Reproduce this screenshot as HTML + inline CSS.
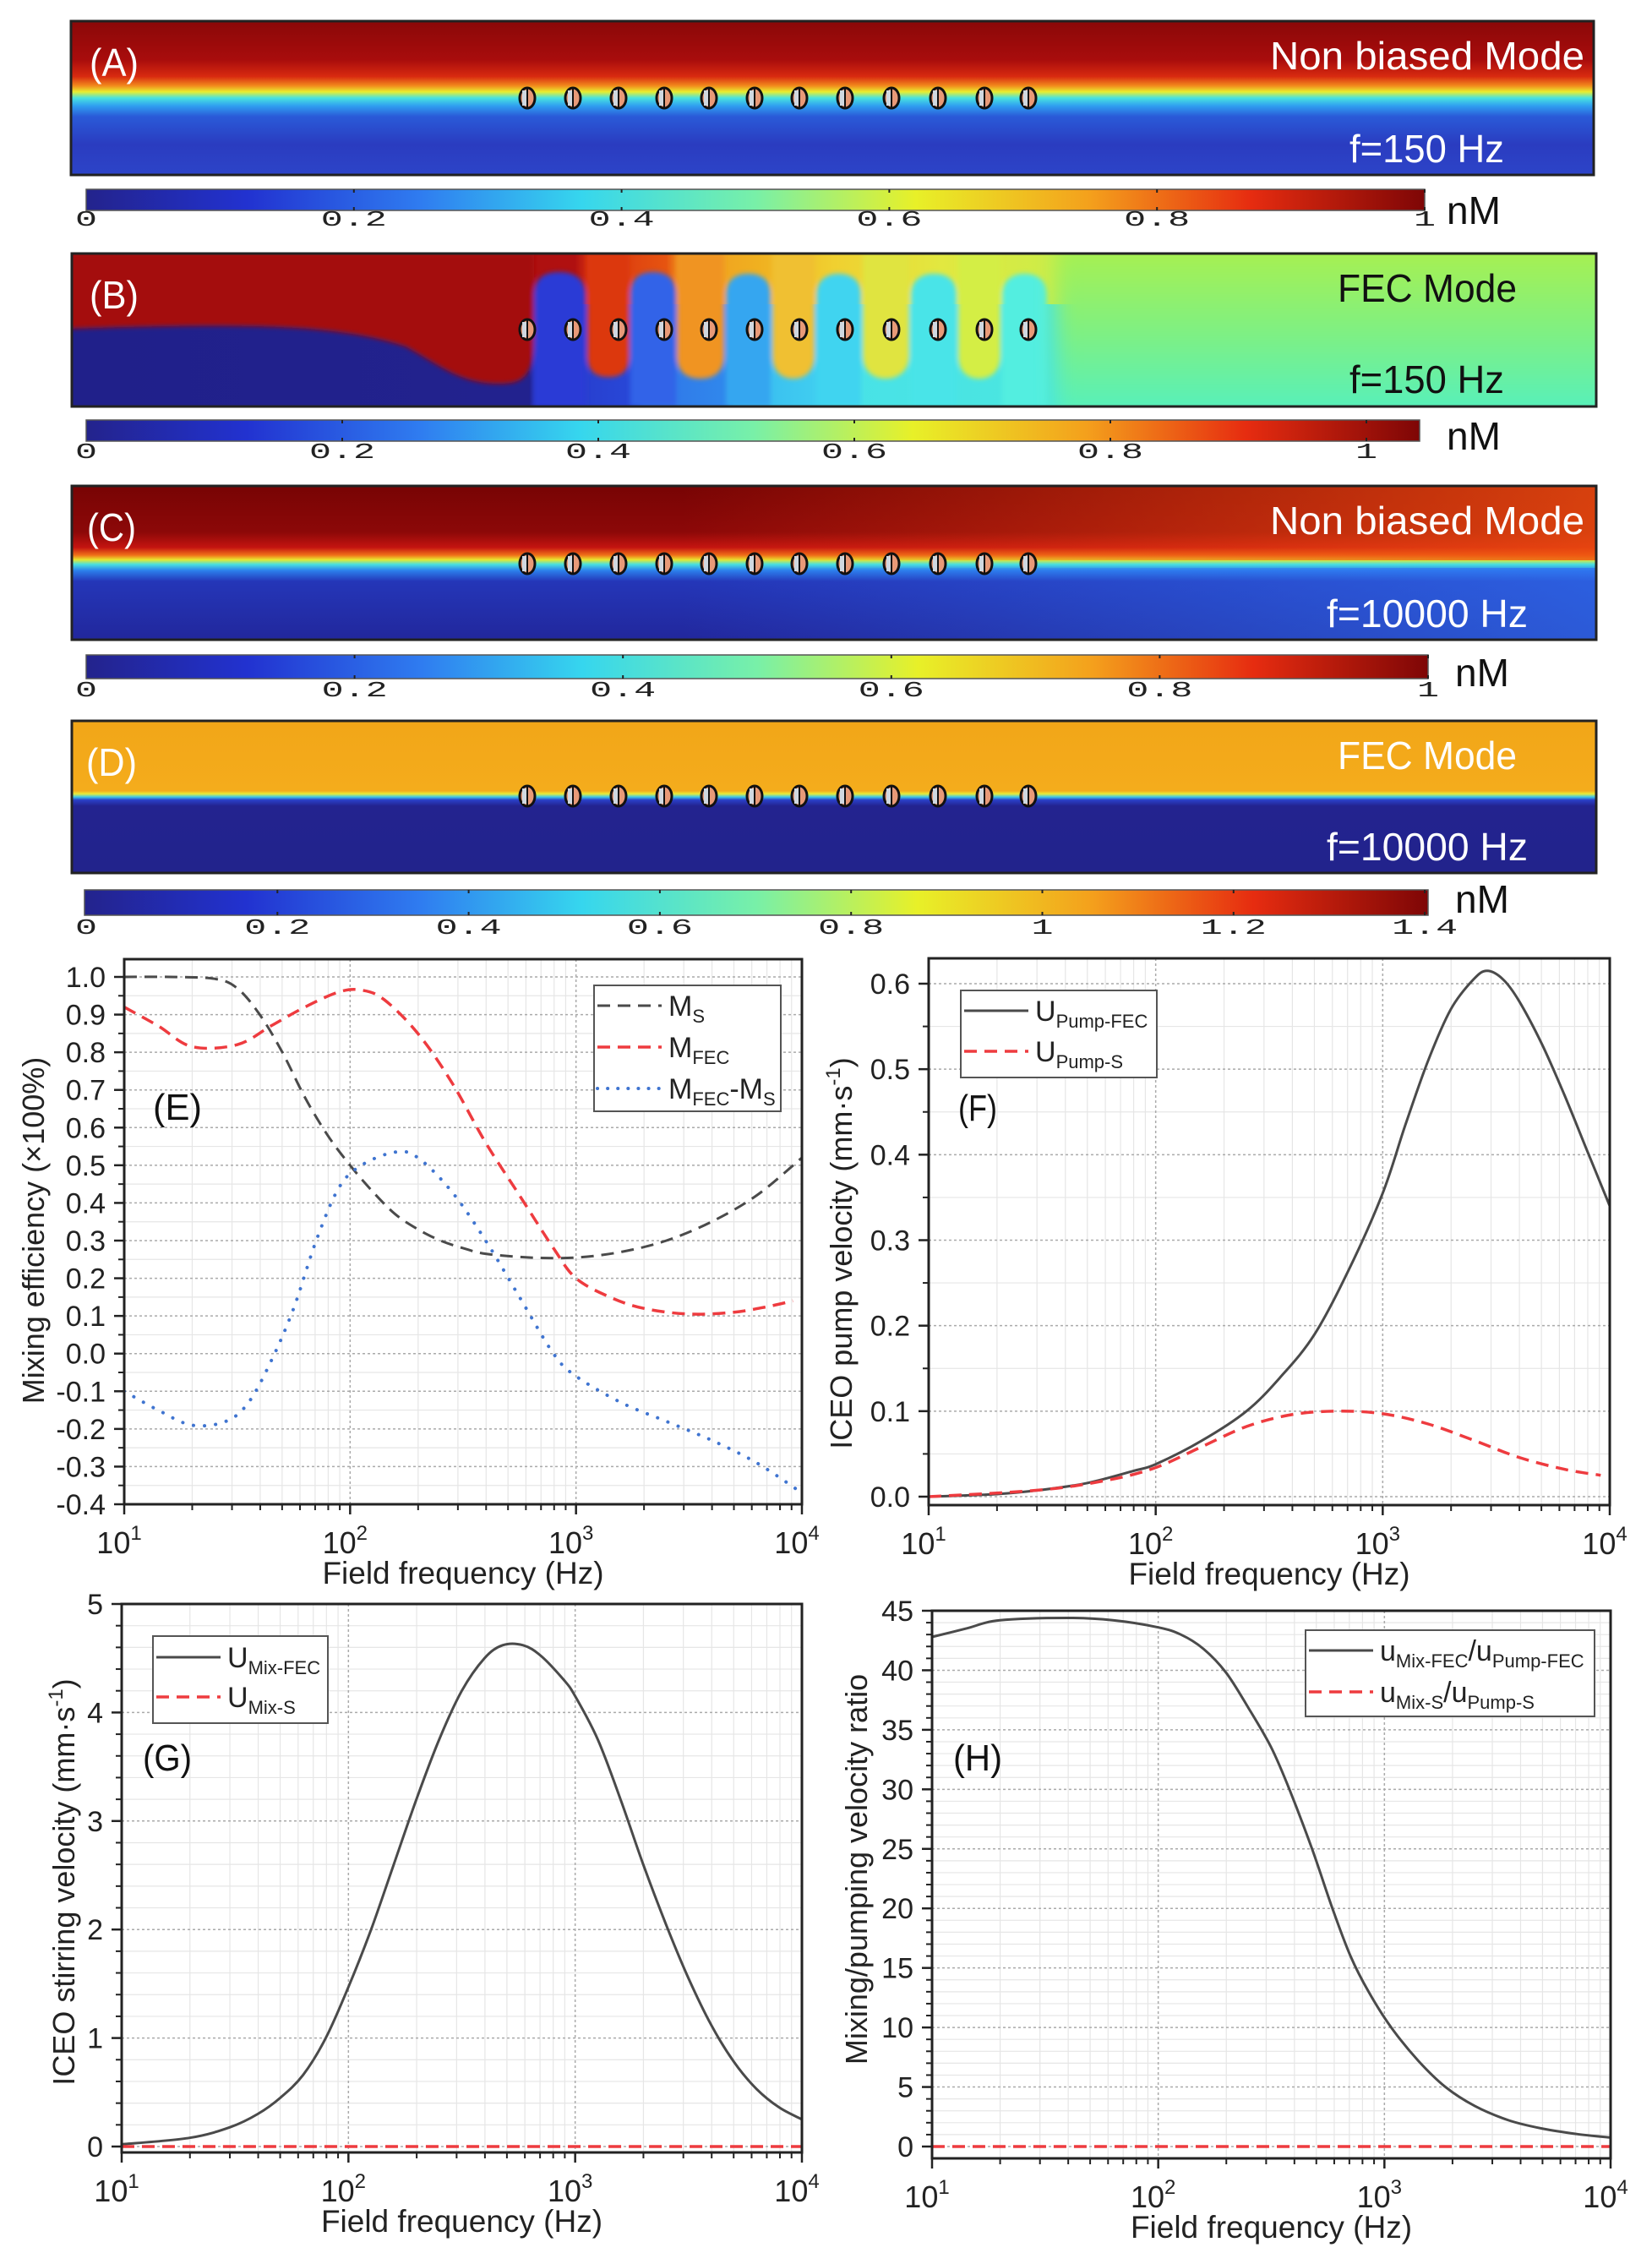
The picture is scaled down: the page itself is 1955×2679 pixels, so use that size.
<!DOCTYPE html>
<html><head><meta charset="utf-8">
<style>
html,body{margin:0;padding:0;background:#fff;}
svg{display:block;}
text{font-family:"Liberation Sans",sans-serif;}
.cb{font-family:"Liberation Mono",monospace;font-size:26px;fill:#222;}
</style></head>
<body>
<svg id="s" xmlns="http://www.w3.org/2000/svg" width="1955" height="2679" viewBox="0 0 1955 2679">
<defs>
<linearGradient id="jet" x1="0" x2="1" y1="0" y2="0">
<stop offset="0" stop-color="#23238c"/><stop offset="0.12" stop-color="#2232d0"/><stop offset="0.25" stop-color="#2f7cf0"/>
<stop offset="0.37" stop-color="#36d6ee"/><stop offset="0.5" stop-color="#78f0a8"/><stop offset="0.62" stop-color="#e8f028"/>
<stop offset="0.75" stop-color="#f4a01c"/><stop offset="0.87" stop-color="#e62c10"/><stop offset="1" stop-color="#7e0606"/>
</linearGradient>
<linearGradient id="gA" x1="0" x2="0" y1="0" y2="1">
<stop offset="0" stop-color="#8a0808"/><stop offset="0.25" stop-color="#a80c0c"/><stop offset="0.36" stop-color="#d82a10"/>
<stop offset="0.42" stop-color="#f28a1c"/><stop offset="0.46" stop-color="#e8ee30"/><stop offset="0.5" stop-color="#48e2e0"/>
<stop offset="0.55" stop-color="#30a0f0"/><stop offset="0.62" stop-color="#2a5ad8"/><stop offset="0.8" stop-color="#2a3cc0"/><stop offset="1" stop-color="#2d44c8"/>
</linearGradient>
<linearGradient id="gC" x1="0" x2="0" y1="0" y2="1">
<stop offset="0" stop-color="#780404"/><stop offset="0.3" stop-color="#8c0808"/><stop offset="0.4" stop-color="#c41410"/>
<stop offset="0.45" stop-color="#f07018"/><stop offset="0.48" stop-color="#e8e830"/><stop offset="0.51" stop-color="#48e0e0"/>
<stop offset="0.55" stop-color="#2c80ec"/><stop offset="0.62" stop-color="#2436b8"/><stop offset="1" stop-color="#22279c"/>
</linearGradient>
<linearGradient id="gCt" x1="0" x2="1" y1="0" y2="0">
<stop offset="0" stop-color="#e84010" stop-opacity="0"/><stop offset="0.4" stop-color="#e84010" stop-opacity="0"/><stop offset="1" stop-color="#ee5010" stop-opacity="0.8"/>
</linearGradient>
<linearGradient id="gCb" x1="0" x2="1" y1="0" y2="0">
<stop offset="0" stop-color="#3070f0" stop-opacity="0"/><stop offset="0.4" stop-color="#3070f0" stop-opacity="0"/><stop offset="1" stop-color="#3070f0" stop-opacity="0.7"/>
</linearGradient>
<linearGradient id="gD" x1="0" x2="0" y1="0" y2="1">
<stop offset="0" stop-color="#f2a618"/><stop offset="0.46" stop-color="#f4ac1c"/><stop offset="0.48" stop-color="#e8ec38"/>
<stop offset="0.5" stop-color="#40c8e8"/><stop offset="0.52" stop-color="#2a40c8"/><stop offset="0.56" stop-color="#23238f"/><stop offset="1" stop-color="#22238c"/>
</linearGradient>
<linearGradient id="bTop" gradientUnits="userSpaceOnUse" x1="85" x2="1889" y1="0" y2="0">
<stop offset="0" stop-color="#a00c0c"/><stop offset="0.33" stop-color="#b01010"/><stop offset="0.34" stop-color="#d83210"/>
<stop offset="0.39" stop-color="#e65410"/><stop offset="0.4" stop-color="#f09a20"/><stop offset="0.45" stop-color="#f0b020"/>
<stop offset="0.5" stop-color="#f0d030"/><stop offset="0.57" stop-color="#e2e840"/><stop offset="0.7" stop-color="#bcf04e"/><stop offset="1" stop-color="#aef04c"/>
</linearGradient>
<linearGradient id="bBot" gradientUnits="userSpaceOnUse" x1="85" x2="1889" y1="0" y2="0">
<stop offset="0" stop-color="#20208a"/><stop offset="0.3" stop-color="#22228e"/><stop offset="0.305" stop-color="#2838c8"/>
<stop offset="0.37" stop-color="#2848d8"/><stop offset="0.375" stop-color="#3074e8"/><stop offset="0.43" stop-color="#3088ec"/>
<stop offset="0.435" stop-color="#38b8f0"/><stop offset="0.49" stop-color="#40cef0"/><stop offset="0.5" stop-color="#48e2e8"/><stop offset="1" stop-color="#54f0c8"/>
</linearGradient>
<linearGradient id="bR" x1="0" x2="0" y1="0" y2="1">
<stop offset="0" stop-color="#aef048"/><stop offset="0.5" stop-color="#80f080"/><stop offset="1" stop-color="#50f0c4"/>
</linearGradient>
<filter id="bl3"><feGaussianBlur stdDeviation="3"/></filter>
<filter id="bl10"><feGaussianBlur stdDeviation="12"/></filter>
<clipPath id="cB"><rect x="85" y="300" width="1804" height="181"/></clipPath>
</defs>

<rect x="84" y="25" width="1802" height="182" fill="url(#gA)" stroke="#222" stroke-width="3"/>
<g id="elA"></g>
<text x="106" y="90" fill="#fff" font-size="46" textLength="58" lengthAdjust="spacingAndGlyphs">(A)</text>
<text x="1503" y="82" fill="#fff" font-size="46" textLength="372" lengthAdjust="spacingAndGlyphs">Non biased Mode</text>
<text x="1597" y="192" fill="#fff" font-size="46" textLength="183" lengthAdjust="spacingAndGlyphs">f=150 Hz</text>

<g clip-path="url(#cB)">
<rect x="85" y="300" width="1804" height="181" fill="url(#bBot)"/>
<rect x="85" y="300" width="1804" height="60" fill="url(#bTop)"/>
<g filter="url(#bl3)">
<path d="M80,300 L632,300 L632,400 C632,450 615,454 590,454 C545,454 520,432 480,410 C400,384 300,382 80,389 Z" fill="#a40c0c"/>
<path d="M632,481 L632,350 C632,328 645,322 662,322 C680,322 693,330 693,350 L693,481 Z" fill="#2a3ad6"/>
<path d="M695,300 L745,300 L745,420 C745,440 735,446 720,446 C705,446 695,440 695,420 Z" fill="#dc3810"/>
<path d="M746,481 L746,350 C746,328 758,322 773,322 C790,322 800,330 800,350 L800,481 Z" fill="#3064e8"/>
<path d="M801,300 L857,300 L857,420 C857,440 845,448 829,448 C812,448 801,440 801,420 Z" fill="#f09422"/>
<path d="M859,481 L859,350 C859,330 872,324 885,324 C900,324 912,330 912,350 L912,481 Z" fill="#34a6f0"/>
<path d="M914,300 L964,300 L964,420 C964,440 952,448 939,448 C925,448 914,440 914,420 Z" fill="#f0c030"/>
<path d="M966,481 L966,350 C966,330 980,324 992,324 C1006,324 1019,330 1019,350 L1019,481 Z" fill="#40d4f0"/>
<path d="M1021,300 L1076,300 L1076,420 C1076,440 1062,448 1048,448 C1034,448 1021,440 1021,420 Z" fill="#e0e440"/>
<path d="M1078,481 L1078,350 C1078,330 1092,324 1105,324 C1120,324 1132,330 1132,350 L1132,481 Z" fill="#48e4e8"/>
<path d="M1134,300 L1184,300 L1184,420 C1184,440 1172,448 1159,448 C1145,448 1134,440 1134,420 Z" fill="#d4ee44"/>
<path d="M1186,481 L1186,350 C1186,330 1200,324 1212,324 C1226,324 1239,330 1239,350 L1239,481 Z" fill="#52eee0"/>
</g>
<rect x="1250" y="280" width="700" height="220" fill="url(#bR)" filter="url(#bl10)"/>
</g>
<rect x="85" y="300" width="1804" height="181" fill="none" stroke="#222" stroke-width="3"/>
<g id="elB"></g>
<text x="106" y="365" fill="#fff" font-size="46" textLength="58" lengthAdjust="spacingAndGlyphs">(B)</text>
<text x="1583" y="357" fill="#111" font-size="46" textLength="212" lengthAdjust="spacingAndGlyphs">FEC Mode</text>
<text x="1597" y="465" fill="#111" font-size="46" textLength="183" lengthAdjust="spacingAndGlyphs">f=150 Hz</text>

<rect x="85" y="575" width="1804" height="182" fill="url(#gC)"/>
<rect x="85" y="575" width="1804" height="88" fill="url(#gCt)"/>
<rect x="85" y="672" width="1804" height="85" fill="url(#gCb)"/>
<rect x="85" y="575" width="1804" height="182" fill="none" stroke="#222" stroke-width="3"/>
<g id="elC"></g>
<text x="103" y="640" fill="#fff" font-size="46" textLength="58" lengthAdjust="spacingAndGlyphs">(C)</text>
<text x="1503" y="632" fill="#fff" font-size="46" textLength="372" lengthAdjust="spacingAndGlyphs">Non biased Mode</text>
<text x="1570" y="742" fill="#fff" font-size="46" textLength="238" lengthAdjust="spacingAndGlyphs">f=10000 Hz</text>

<rect x="85" y="853" width="1804" height="180" fill="url(#gD)" stroke="#222" stroke-width="3"/>
<g id="elD"></g>
<text x="102" y="918" fill="#fff" font-size="46" textLength="60" lengthAdjust="spacingAndGlyphs">(D)</text>
<text x="1583" y="910" fill="#fff" font-size="46" textLength="212" lengthAdjust="spacingAndGlyphs">FEC Mode</text>
<text x="1570" y="1018" fill="#fff" font-size="46" textLength="238" lengthAdjust="spacingAndGlyphs">f=10000 Hz</text>

<rect x="102" y="224" width="1584" height="25" fill="url(#jet)" stroke="#555" stroke-width="1.5"/>
<rect x="102" y="497" width="1578" height="25" fill="url(#jet)" stroke="#555" stroke-width="1.5"/>
<rect x="102" y="775" width="1588" height="28" fill="url(#jet)" stroke="#555" stroke-width="1.5"/>
<rect x="100" y="1053" width="1590" height="30" fill="url(#jet)" stroke="#555" stroke-width="1.5"/>
<g id="cbt"></g>
<text x="1712" y="265" font-size="46" fill="#111">nM</text>
<text x="1712" y="532" font-size="46" fill="#111">nM</text>
<text x="1722" y="812" font-size="46" fill="#111">nM</text>
<text x="1722" y="1080" font-size="46" fill="#111">nM</text>

<g id="charts"></g>
</svg>
<script>
var NS="http://www.w3.org/2000/svg";
function el(tag,a,p,t){var e=document.createElementNS(NS,tag);for(var k in a)e.setAttribute(k,a[k]);if(t!==undefined)e.textContent=t;(p||document.getElementById('s')).appendChild(e);return e;}
var ex=[624,678,732,786,839,893,946,1000,1055,1110,1165,1217];
[['elA',116],['elB',390],['elC',667],['elD',942]].forEach(function(q){
 var g=document.getElementById(q[0]);
 ex.forEach(function(x){
  el('ellipse',{cx:x,cy:q[1],rx:9,ry:12,fill:'#e89a78',stroke:'#111','stroke-width':3},g);
  el('rect',{x:x-6,y:q[1]-9,width:5,height:18,fill:'#d0d8e0'},g);
  el('line',{x1:x,y1:q[1]-11,x2:x,y2:q[1]+11,stroke:'#111','stroke-width':2},g);
 });
});
var cbt=document.getElementById('cbt');
function cbar(x0,step,labs,yt,yb,base){
 labs.forEach(function(l,i){var x=x0+i*step;
  if(i>0)el('line',{x1:x,y1:yt,x2:x,y2:yb,stroke:'#222','stroke-width':2,'stroke-dasharray':'4,'+(yb-yt-8)+',4'},cbt);
  var w=l.length*26;
  el('text',{x:x,y:base,'class':'cb','text-anchor':'middle',textLength:w,lengthAdjust:'spacingAndGlyphs'},cbt,l);
 });
}
cbar(102,316.8,['0','0.2','0.4','0.6','0.8','1'],224,249,267);
cbar(102,303,['0','0.2','0.4','0.6','0.8','1'],497,522,542);
cbar(102,317.6,['0','0.2','0.4','0.6','0.8','1'],775,803,824);
cbar(102,226.3,['0','0.2','0.4','0.6','0.8','1','1.2','1.4'],1053,1083,1105);

function cr(pts){
 var d='M'+pts[0][0].toFixed(1)+','+pts[0][1].toFixed(1);
 for(var i=0;i<pts.length-1;i++){
  var p0=pts[i-1]||pts[i],p1=pts[i],p2=pts[i+1],p3=pts[i+2]||p2;
  var c1=[p1[0]+(p2[0]-p0[0])/6,p1[1]+(p2[1]-p0[1])/6],c2=[p2[0]-(p3[0]-p1[0])/6,p2[1]-(p3[1]-p1[1])/6];
  d+=' C'+c1[0].toFixed(1)+','+c1[1].toFixed(1)+' '+c2[0].toFixed(1)+','+c2[1].toFixed(1)+' '+p2[0].toFixed(1)+','+p2[1].toFixed(1);
 }
 return d;
}
var G=document.getElementById('charts');
var STY={gray:{stroke:'#4a4a4a','stroke-width':3,fill:'none'},
 red:{stroke:'#ee3b3f','stroke-width':3.5,fill:'none','stroke-dasharray':'15,9'},
 gdash:{stroke:'#4a4a4a','stroke-width':3,fill:'none','stroke-dasharray':'15,9'},
 blue:{stroke:'#3f74d0','stroke-width':4,fill:'none','stroke-dasharray':'0.1,13','stroke-linecap':'round'}};
function chart(c){
 var px=function(l){return c.L+(l-1)*(c.R-c.L)/3;};
 var k=(c.p0-c.p1)/(c.v1-c.v0);
 var py=function(v){return c.p0-(v-c.v0)*k;};
 for(var d=1;d<4;d++)for(var m=2;m<10;m++){var x=px(d+Math.log10(m));
  el('line',{x1:x,y1:c.T,x2:x,y2:c.B,stroke:'#e6e6e6','stroke-width':1.2},G);}
 c.minor.forEach(function(v){var y=py(v);el('line',{x1:c.L,y1:y,x2:c.R,y2:y,stroke:'#e6e6e6','stroke-width':1.2},G);});
 [2,3].forEach(function(d){var x=px(d);el('line',{x1:x,y1:c.T,x2:x,y2:c.B,stroke:'#aaa','stroke-width':1.5,'stroke-dasharray':'3,3'},G);});
 c.ticks.forEach(function(v){var y=py(v);if(Math.abs(y-c.B)>3&&Math.abs(y-c.T)>3)el('line',{x1:c.L,y1:y,x2:c.R,y2:y,stroke:'#aaa','stroke-width':1.5,'stroke-dasharray':'3,3'},G);});
 c.series.forEach(function(s){var pts=s.p.map(function(q){return [px(q[0]),py(q[1])];});
  var a=Object.assign({d:cr(pts)},STY[s.s]);el('path',a,G);});
 el('rect',{x:c.L,y:c.T,width:c.R-c.L,height:c.B-c.T,fill:'none',stroke:'#222','stroke-width':3},G);
 c.ticks.forEach(function(v,i){var y=py(v);el('line',{x1:c.L-12,y1:y,x2:c.L,y2:y,stroke:'#222','stroke-width':2.5},G);
  el('text',{x:c.L-22,y:y+12,'text-anchor':'end','font-size':34,fill:'#222'},G,c.labs[i]);});
 c.minor.forEach(function(v){var y=py(v);el('line',{x1:c.L-7,y1:y,x2:c.L,y2:y,stroke:'#222','stroke-width':2},G);});
 for(var d=1;d<=4;d++){var x=px(d);el('line',{x1:x,y1:c.B,x2:x,y2:c.B+12,stroke:'#222','stroke-width':2.5},G);
  var t=el('text',{x:x-6,y:c.B+58,'text-anchor':'middle','font-size':36,fill:'#222'},G);
  t.appendChild(document.createTextNode('10'));
  el('tspan',{'font-size':24,dy:-16},t,String(d));
  if(d<4)for(var m=2;m<10;m++){var xx=px(d+Math.log10(m));el('line',{x1:xx,y1:c.B,x2:xx,y2:c.B+7,stroke:'#222','stroke-width':2},G);}
 }
 el('text',{x:(c.L+c.R)/2,y:c.B+94,'text-anchor':'middle','font-size':37,fill:'#222'},G,'Field frequency (Hz)');
 var yt=el('text',{x:0,y:0,'text-anchor':'middle','font-size':36,fill:'#222',transform:'translate('+c.tx+','+c.ty+') rotate(-90)'},G);
 c.title(yt);
 el('text',{x:c.pl[0],y:c.pl[1],'font-size':44,fill:'#111',textLength:c.pl[2]||58,lengthAdjust:'spacingAndGlyphs'},G,c.pl[3]);
 var L=c.leg;el('rect',{x:L.x,y:L.y,width:L.w,height:L.h,fill:'#fff',stroke:'#555','stroke-width':2},G);
 L.items.forEach(function(it,i){var y=L.y0+i*L.dy;
  var a=Object.assign({},STY[it.s],{x1:L.x+4,y1:y,x2:L.x+80,y2:y});
  if(it.s=='blue')a['stroke-dasharray']='0.1,12';
  el('line',a,G);
  var t=el('text',{x:L.x+88,y:y+12,'font-size':34,fill:'#222'},G);
  it.t.forEach(function(seg){el('tspan',seg[1]?{'font-size':22,dy:seg[1]}:{'font-size':34,dy:seg[2]||0},t,seg[0]);});
 });
}
function yl(parts){return function(t){parts.forEach(function(p){el('tspan',p[1]?{'font-size':24,dy:p[1]}:{dy:p[2]||0},t,p[0]);});};}
var rng=function(a,b,s){var r=[];for(var v=a;v<=b+1e-9;v+=s)r.push(Math.round(v*1000)/1000);return r;};
var eT=rng(-0.4,1.0,0.1);
chart({L:147,R:949,T:1135,B:1780,v0:-0.4,p0:1780,v1:1.0,p1:1156,ticks:eT,labs:eT.map(function(v){return v.toFixed(1);}),
 minor:rng(-0.35,0.95,0.1),tx:52,ty:1456,title:yl([['Mixing efficiency (\u00d7100%)']]),pl:[181,1325,58,'(E)'],
 series:[
 {s:'gdash',p:[[1,1.0],[1.2,1.0],[1.4,0.995],[1.5,0.97],[1.6,0.9],[1.7,0.8],[1.8,0.68],[1.9,0.58],[2.0,0.5],[2.1,0.43],[2.2,0.37],[2.3,0.33],[2.4,0.3],[2.5,0.28],[2.6,0.265],[2.8,0.255],[3.0,0.255],[3.2,0.27],[3.4,0.3],[3.6,0.35],[3.8,0.42],[4.0,0.52]]},
 {s:'red',p:[[1,0.92],[1.15,0.87],[1.3,0.815],[1.5,0.82],[1.65,0.87],[1.8,0.92],[1.95,0.96],[2.05,0.965],[2.15,0.94],[2.3,0.85],[2.45,0.72],[2.6,0.56],[2.75,0.42],[2.9,0.28],[3.0,0.2],[3.15,0.15],[3.3,0.12],[3.5,0.105],[3.7,0.11],[3.85,0.125],[3.96,0.14]]},
 {s:'blue',p:[[1,-0.1],[1.15,-0.15],[1.3,-0.19],[1.45,-0.18],[1.55,-0.13],[1.65,-0.02],[1.75,0.12],[1.85,0.3],[1.95,0.44],[2.05,0.5],[2.2,0.535],[2.3,0.52],[2.45,0.43],[2.6,0.3],[2.75,0.15],[2.9,0.0],[3.0,-0.06],[3.2,-0.13],[3.4,-0.18],[3.6,-0.23],[3.8,-0.29],[4.0,-0.37]]}],
 leg:{x:703,y:1166,w:221,h:149,y0:1190,dy:49,items:[{s:'gdash',t:[['M'],['S',8]]},{s:'red',t:[['M'],['FEC',8]]},{s:'blue',t:[['M'],['FEC',8],['-M',0,-8],['S',8]]}]}});
var fT=rng(0,0.6,0.1);
chart({L:1099,R:1905,T:1134,B:1781,v0:0,p0:1771,v1:0.6,p1:1164,ticks:fT,labs:fT.map(function(v){return v.toFixed(1);}),
 minor:rng(0.05,0.55,0.1),tx:1008,ty:1483,title:yl([['ICEO pump velocity (mm\u00b7s'],['-1',-14],[')',0,14]]),pl:[1134,1326,46,'(F)'],
 series:[
 {s:'gray',p:[[1,0],[1.3,0.003],[1.5,0.008],[1.7,0.016],[1.9,0.03],[2.0,0.038],[2.2,0.065],[2.4,0.1],[2.55,0.14],[2.7,0.19],[2.85,0.265],[3.0,0.355],[3.1,0.435],[3.2,0.51],[3.3,0.57],[3.4,0.605],[3.46,0.615],[3.53,0.605],[3.6,0.58],[3.7,0.53],[3.8,0.47],[3.9,0.405],[4.0,0.34]]},
 {s:'red',p:[[1,0],[1.5,0.008],[1.8,0.02],[2.0,0.034],[2.2,0.058],[2.4,0.082],[2.6,0.096],[2.8,0.1],[3.0,0.097],[3.2,0.085],[3.4,0.066],[3.6,0.046],[3.8,0.032],[3.96,0.025]]}],
 leg:{x:1137,y:1172,w:232,h:103,y0:1196,dy:48,items:[{s:'gray',t:[['U'],['Pump-FEC',8]]},{s:'red',t:[['U'],['Pump-S',8]]}]}});
var gT=rng(0,5,1);
chart({L:144,R:949,T:1898,B:2547,v0:0,p0:2540,v1:5,p1:1898,ticks:gT,labs:gT.map(String),
 minor:rng(0.2,4.8,0.2).filter(function(v){return Math.abs(v-Math.round(v))>0.01;}),tx:88,ty:2227,title:yl([['ICEO stirring velocity (mm\u00b7s'],['-1',-14],[')',0,14]]),pl:[169,2095,58,'(G)'],
 series:[
 {s:'gray',p:[[1,0.02],[1.3,0.08],[1.48,0.18],[1.6,0.3],[1.7,0.45],[1.8,0.66],[1.9,1.0],[2.0,1.47],[2.1,2.0],[2.2,2.6],[2.3,3.2],[2.4,3.75],[2.5,4.2],[2.6,4.5],[2.68,4.62],[2.77,4.62],[2.85,4.52],[2.95,4.3],[3.0,4.15],[3.1,3.75],[3.2,3.2],[3.3,2.6],[3.4,2.05],[3.5,1.55],[3.6,1.12],[3.7,0.78],[3.8,0.53],[3.9,0.36],[4.0,0.25]]},
 {s:'red',p:[[1,0],[4,0]]}],
 leg:{x:181,y:1936,w:207,h:103,y0:1961,dy:47,items:[{s:'gray',t:[['U'],['Mix-FEC',8]]},{s:'red',t:[['U'],['Mix-S',8]]}]}});
var hT=rng(0,45,5);
chart({L:1103,R:1906,T:1906,B:2554,v0:0,p0:2540,v1:45,p1:1906,ticks:hT,labs:hT.map(String),
 minor:rng(1,44,1).filter(function(v){return v%5!=0;}),tx:1026,ty:2212,title:yl([['Mixing/pumping velocity ratio']]),pl:[1128,2095,58,'(H)'],
 series:[
 {s:'gray',p:[[1,42.8],[1.15,43.5],[1.3,44.2],[1.6,44.4],[1.8,44.2],[2.0,43.6],[2.1,43],[2.2,41.8],[2.3,39.8],[2.4,36.8],[2.5,33.5],[2.58,30],[2.68,25],[2.77,20],[2.85,16],[2.93,13],[3.03,10],[3.15,7.2],[3.27,5],[3.4,3.4],[3.55,2.2],[3.7,1.5],[3.85,1.05],[4.0,0.75]]},
 {s:'red',p:[[1,0],[4,0]]}],
 leg:{x:1545,y:1929,w:342,h:102,y0:1953,dy:49,items:[{s:'gray',t:[['u'],['Mix-FEC',8],['/u',0,-8],['Pump-FEC',8]]},{s:'red',t:[['u'],['Mix-S',8],['/u',0,-8],['Pump-S',8]]}]}});
</script>
</body></html>
